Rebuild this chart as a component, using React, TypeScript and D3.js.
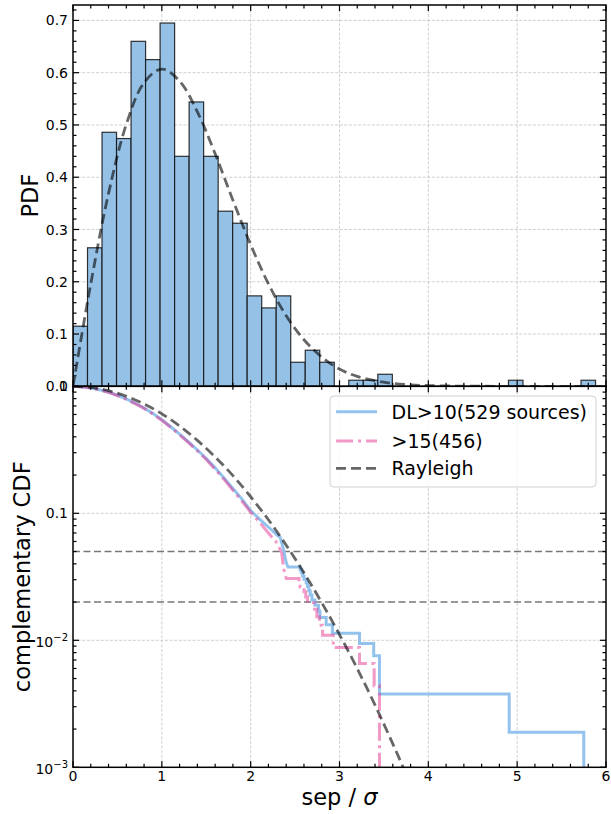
import React from 'react';
import * as d3 from 'd3';

// histogram of sep/sigma (PDF heights per bin), bins start at 0
const binWidth = 0.1634;
const pdfHeights = [
  0.115, 0.265, 0.486, 0.474, 0.66, 0.625, 0.695, 0.44, 0.544, 0.44,
  0.335, 0.312, 0.173, 0.15, 0.173, 0.046, 0.069, 0.046, 0, 0.0116,
  0.0116, 0.023, 0, 0, 0, 0, 0, 0, 0, 0,
  0.0116, 0, 0, 0, 0, 0.0116,
];

// Rayleigh reference curve, sampled
const rayX = [0, 0.2, 0.4, 0.6, 0.8, 1.0, 1.2, 1.4, 1.6, 1.8, 2.0, 2.2, 2.4, 2.6, 2.8, 3.0, 3.2, 3.4, 3.6, 3.8, 4.0, 4.5, 5.0, 5.5, 6.0];
const rayPdf = [0, 0.196, 0.369, 0.501, 0.581, 0.607, 0.584, 0.525, 0.445, 0.356, 0.271, 0.196, 0.135, 0.089, 0.056, 0.033, 0.019, 0.011, 0.0055, 0.0028, 0.0013, 0.0002, 0, 0, 0];
const rayCcdfX = [0, 0.2, 0.4, 0.6, 0.8, 1.0, 1.2, 1.4, 1.6, 1.8, 2.0, 2.2, 2.4, 2.6, 2.8, 3.0, 3.2, 3.4, 3.6, 3.8, 4.0];
const rayCcdf = [1, 0.98, 0.923, 0.835, 0.726, 0.607, 0.487, 0.375, 0.278, 0.198, 0.135, 0.0889, 0.0561, 0.034, 0.0198, 0.0111, 0.00598, 0.00309, 0.00153, 0.000732, 0.000335];

// DL>10 complementary CDF: smooth body, then individual steps (remaining sources)
const dl10N = 529;
const dl10X = [0, 0.1, 0.2, 0.3, 0.4, 0.5, 0.6, 0.7, 0.8, 0.9, 1.0, 1.1, 1.2, 1.3, 1.4, 1.5, 1.6, 1.7, 1.8, 1.9, 2.0, 2.1, 2.2, 2.3, 2.33, 2.37, 2.4, 2.42];
const dl10Y = [1, 0.993, 0.972, 0.94, 0.9, 0.85, 0.795, 0.735, 0.675, 0.61, 0.545, 0.48, 0.42, 0.365, 0.315, 0.27, 0.228, 0.19, 0.157, 0.13, 0.105, 0.09, 0.078, 0.067, 0.065, 0.052, 0.041, 0.0378];
const dl10StepX = [2.556, 2.57, 2.585, 2.6, 2.625, 2.64, 2.655, 2.67, 2.69, 2.725, 2.763, 2.78, 2.85, 2.92, 3.225, 3.385, 3.45, 4.91, 5.75];
const dl10StepN = [19, 18, 17, 16, 15, 14, 13, 12, 11, 10, 9, 8, 7, 6, 5, 4, 2, 1, 0];

// >15 complementary CDF
const dl15N = 456;
const dl15X = [0, 0.1, 0.2, 0.3, 0.4, 0.5, 0.6, 0.7, 0.8, 0.9, 1.0, 1.1, 1.2, 1.3, 1.4, 1.5, 1.6, 1.7, 1.8, 1.9, 2.0, 2.1, 2.2, 2.3, 2.35, 2.37, 2.4];
const dl15Y = [1, 0.993, 0.97, 0.937, 0.897, 0.845, 0.79, 0.73, 0.67, 0.605, 0.54, 0.475, 0.415, 0.36, 0.31, 0.265, 0.222, 0.185, 0.152, 0.125, 0.102, 0.085, 0.07, 0.058, 0.0485, 0.037, 0.0307];
const dl15StepX = [2.545, 2.556, 2.6, 2.62, 2.64, 2.72, 2.745, 2.775, 2.81, 2.93, 3.225, 3.39, 3.45];
const dl15StepN = [13, 12, 11, 10, 9, 8, 7, 6, 5, 4, 3, 2, 0];

const refLevels = [0.05, 0.02];
const legendLabels = ['DL>10(529 sources)', '>15(456)', 'Rayleigh'];

const BLUE = '#93c3ec';
const PINK = '#e3348f';
const FONT = '"DejaVu Sans", sans-serif';

const L = 73, R = 606, T = 5, MID = 386.3, B = 767.3;

const x = d3.scaleLinear().domain([0, 6]).range([L, R]);
const yPdf = d3.scaleLinear().domain([0, 0.7295]).range([MID, T]);
const yCdf = d3.scaleLog().domain([1e-3, 1]).range([B, MID]);

function ccdfPath(bx: number[], by: number[], sx: number[], sn: number[], n: number) {
  const pts: [number, number][] = bx.map((v, i) => [x(v), yCdf(by[i])]);
  let prev = by[by.length - 1];
  sx.forEach((v, i) => {
    const next = sn[i] > 0 ? sn[i] / n : 1e-4;
    pts.push([x(v), yCdf(prev)]);
    pts.push([x(v), yCdf(next)]);
    prev = next;
  });
  return d3.line()(pts) || '';
}

const App = () => {
  const xMajor = d3.range(0, 7);
  const xMinor = d3.range(0, 30).map(i => i * 0.2).filter(v => Math.abs(v - Math.round(v)) > 1e-6);
  const pdfMajor = d3.range(0, 8).map(i => i / 10);
  const pdfMinor = d3.range(0, 37).map(i => i * 0.02).filter(v => Math.abs(v * 10 - Math.round(v * 10)) > 1e-6);
  const cdfMajor = [1e-3, 1e-2, 1e-1, 1];
  const cdfMinor: number[] = [];
  [-3, -2, -1].forEach(d => { for (let k = 2; k <= 9; k++) cdfMinor.push(k * Math.pow(10, d)); });

  const tick = (key: string, x1: number, y1: number, x2: number, y2: number) => (
    <line key={key} x1={x1} y1={y1} x2={x2} y2={y2} stroke="#000" strokeWidth={1.2} />
  );

  const ticks: JSX.Element[] = [];
  // x ticks on both panels, both edges, pointing inward
  [[T, 1], [MID, -1], [MID, 1], [B, -1]].forEach(([yy, dir], j) => {
    xMajor.forEach(v => ticks.push(tick(`xM${j}-${v}`, x(v), yy, x(v), yy + dir * 6)));
    xMinor.forEach(v => ticks.push(tick(`xm${j}-${v}`, x(v), yy, x(v), yy + dir * 3.5)));
  });
  [[L, 1], [R, -1]].forEach(([xx, dir], j) => {
    pdfMajor.forEach(v => ticks.push(tick(`pM${j}-${v}`, xx, yPdf(v), xx + dir * 6, yPdf(v))));
    pdfMinor.forEach(v => ticks.push(tick(`pm${j}-${v}`, xx, yPdf(v), xx + dir * 3.5, yPdf(v))));
    cdfMajor.forEach(v => ticks.push(tick(`cM${j}-${v}`, xx, yCdf(v), xx + dir * 6, yCdf(v))));
    cdfMinor.forEach(v => ticks.push(tick(`cm${j}-${v}`, xx, yCdf(v), xx + dir * 3.5, yCdf(v))));
  });

  const grid = { stroke: '#c4c4c4', strokeWidth: 0.8, strokeDasharray: '3,1.6' };

  const rayTop = d3.line<number>().x((d, i) => x(rayX[i])).y(d => yPdf(d)).curve(d3.curveCatmullRom)(rayPdf) || '';
  const rayBot = d3.line<number>().x((d, i) => x(rayCcdfX[i])).y(d => yCdf(d)).curve(d3.curveCatmullRom)(rayCcdf) || '';

  const cdfLabel = (v: number) => {
    if (v === 1) return <tspan>1</tspan>;
    if (v === 0.1) return <tspan>0.1</tspan>;
    const e = Math.round(Math.log10(v));
    return (<><tspan>10</tspan><tspan dy={-6} fontSize={10}>{'\u2212' + Math.abs(e)}</tspan></>);
  };

  const legendY = [411.7, 441, 468.3];

  return (
    <svg width={611} height={814} style={{ position: 'absolute', left: 0, top: 0, background: '#fff' }} fontFamily={FONT}>
      <defs>
        <clipPath id="clipTop"><rect x={L} y={T} width={R - L} height={MID - T} /></clipPath>
        <clipPath id="clipBot"><rect x={L} y={MID} width={R - L} height={B - MID} /></clipPath>
      </defs>
      <rect x={0} y={0} width={611} height={814} fill="#fff" />

      {/* grids */}
      {[1, 2, 3, 4, 5].map(v => <line key={'gv' + v} x1={x(v)} x2={x(v)} y1={T} y2={B} {...grid} />)}
      {pdfMajor.slice(1).map(v => <line key={'gp' + v} x1={L} x2={R} y1={yPdf(v)} y2={yPdf(v)} {...grid} />)}
      {[0.1, 0.01].map(v => <line key={'gc' + v} x1={L} x2={R} y1={yCdf(v)} y2={yCdf(v)} {...grid} />)}

      {/* top panel: histogram */}
      <g clipPath="url(#clipTop)">
        {pdfHeights.map((h, i) => h > 0 && (
          <rect key={'b' + i} x={x(i * binWidth)} y={yPdf(h)} width={x((i + 1) * binWidth) - x(i * binWidth)}
            height={yPdf(0) - yPdf(h)} fill="#96c1e7" stroke="#111" strokeOpacity={0.85} strokeWidth={1.2} />
        ))}
        <path d={rayTop} fill="none" stroke="#000" strokeOpacity={0.6} strokeWidth={2.8} strokeDasharray="10,5" />
      </g>

      {/* bottom panel */}
      <g clipPath="url(#clipBot)">
        {refLevels.map(v => (
          <line key={'r' + v} x1={L} x2={R} y1={yCdf(v)} y2={yCdf(v)} stroke="#777" strokeWidth={1.4} strokeDasharray="7,3.5" />
        ))}
        <path d={ccdfPath(dl10X, dl10Y, dl10StepX, dl10StepN, dl10N)} fill="none" stroke={BLUE} strokeWidth={3} />
        <path d={ccdfPath(dl15X, dl15Y, dl15StepX, dl15StepN, dl15N)} fill="none" stroke={PINK} strokeOpacity={0.5} strokeWidth={3} strokeDasharray="18,4.5,3,4.5" />
        <path d={rayBot} fill="none" stroke="#000" strokeOpacity={0.6} strokeWidth={2.8} strokeDasharray="10,5" />
      </g>

      {/* frames */}
      <rect x={L} y={T} width={R - L} height={MID - T} fill="none" stroke="#000" strokeWidth={1.5} />
      <rect x={L} y={MID} width={R - L} height={B - MID} fill="none" stroke="#000" strokeWidth={1.5} />
      {ticks}

      {/* tick labels */}
      {pdfMajor.map(v => (
        <text key={'lp' + v} x={68} y={yPdf(v)} dy="0.36em" textAnchor="end" fontSize={14}>{v.toFixed(1)}</text>
      ))}
      {cdfMajor.map(v => (
        <text key={'lc' + v} x={68} y={yCdf(v)} dy={v < 0.05 ? '0.5em' : '0.36em'} textAnchor="end" fontSize={14}>{cdfLabel(v)}</text>
      ))}
      {xMajor.map(v => (
        <text key={'lx' + v} x={x(v)} y={781} textAnchor="middle" fontSize={14}>{v}</text>
      ))}

      {/* axis labels */}
      <text transform={`translate(38,${(T + MID) / 2}) rotate(-90)`} textAnchor="middle" fontSize={22.5}>PDF</text>
      <text transform={`translate(29.5,${(MID + B) / 2}) rotate(-90)`} textAnchor="middle" fontSize={22.5}>complementary CDF</text>
      <text x={(L + R) / 2} y={805} textAnchor="middle" fontSize={22.5}>sep / <tspan fontStyle="italic">σ</tspan></text>

      {/* legend */}
      <rect x={330} y={396} width={266} height={91} rx={4} fill="#fff" fillOpacity={0.8} stroke="#d0d0d0" strokeWidth={1} />
      <line x1={336} x2={377} y1={legendY[0]} y2={legendY[0]} stroke={BLUE} strokeWidth={3} />
      <line x1={336} x2={377} y1={legendY[1]} y2={legendY[1]} stroke={PINK} strokeOpacity={0.5} strokeWidth={3} strokeDasharray="17,5,3,5" />
      <line x1={336} x2={377} y1={legendY[2]} y2={legendY[2]} stroke="#000" strokeOpacity={0.6} strokeWidth={2.8} strokeDasharray="10,5" />
      {legendLabels.map((t, i) => (
        <text key={'lg' + i} x={391.5} y={legendY[i]} dy="0.36em" fontSize={19}>{t}</text>
      ))}
    </svg>
  );
};

export default App;
